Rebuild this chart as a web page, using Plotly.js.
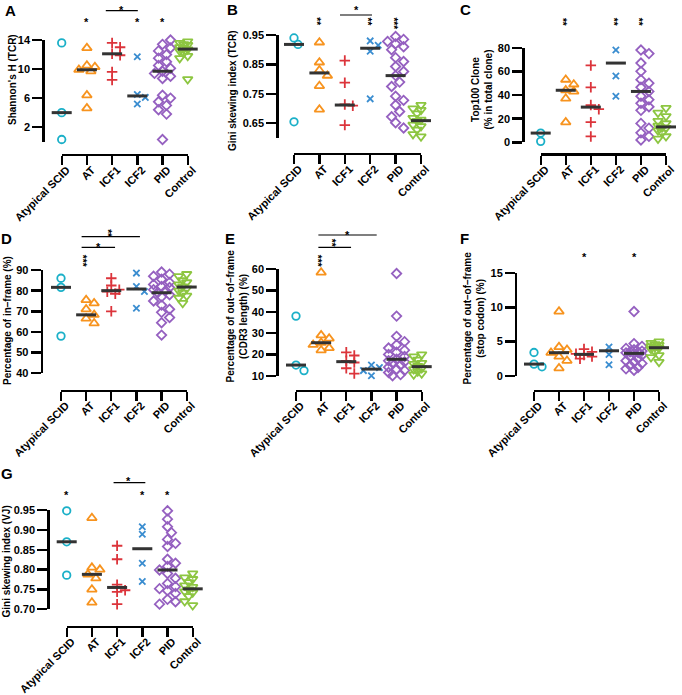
<!DOCTYPE html>
<html>
<head>
<meta charset="utf-8">
<script src="https://cdn.plot.ly/plotly-3.0.1.min.js"></script>
<style>
html,body{margin:0;padding:0;background:#fff;}
#chart{width:682px;height:695px;}
</style>
</head>
<body>
<div id="chart"></div>
<script>
const groups = ['Atypical SCID', 'AT', 'ICF1', 'ICF2', 'PID', 'Control'];

// A: Shannon's H (TCR)
const aAtypical = [13.6, 4.0, 0.3];
const aAT = [12.9, 10.5, 10.3, 9.9, 9.7, 6.4, 4.6];
const aICF1 = [14.6, 13.6, 13.0, 12.1, 11.9, 9.6, 8.5];
const aICF2 = [11.7, 6.5, 6.1, 5.2];
const aPID = [14.6, 14.0, 13.4, 12.9, 12.5, 12.0, 11.5, 11.0, 10.5, 10.1, 9.7, 9.4, 9.0, 8.7, 6.4, 6.0, 5.5, 5.0, 4.4, 3.8, 0.3];
const aControl = [13.8, 13.7, 13.6, 13.5, 13.4, 13.3, 13.2, 13.0, 12.9, 12.8, 12.7, 12.6, 12.5, 12.4, 12.2, 12.0, 11.8, 11.5, 11.0, 8.6];

// B: Gini skewing index (TCR)
const bAtypical = [0.940, 0.918, 0.655];
const bAT = [0.925, 0.857, 0.830, 0.812, 0.777, 0.697];
const bICF1 = [0.863, 0.788, 0.714, 0.710, 0.644, 0.593];
const bICF2 = [0.930, 0.915, 0.895, 0.733];
const bPID = [0.945, 0.935, 0.928, 0.920, 0.910, 0.900, 0.873, 0.860, 0.843, 0.826, 0.812, 0.790, 0.775, 0.742, 0.728, 0.712, 0.690, 0.672, 0.652, 0.634, 0.595];
const bControl = [0.712, 0.705, 0.700, 0.695, 0.690, 0.683, 0.675, 0.668, 0.662, 0.660, 0.658, 0.652, 0.645, 0.640, 0.635, 0.628, 0.620, 0.613, 0.605, 0.600];

// C: Top100 Clone (% in total clone)
const cAtypical = [88.5, 7.8, 0.8];
const cAT = [85, 53, 49, 44, 43, 37, 17];
const cICF1 = [65, 46.5, 31.5, 28, 17, 5];
const cICF2 = [84, 78, 56, 39];
const cPID = [90, 87, 84, 78, 75, 67, 60, 53, 50, 46.5, 43, 39, 36, 33, 30, 27, 16, 12, 8, 5, 2];
const cControl = [29, 27, 25, 22, 20, 18, 16, 15, 14, 13.5, 12.5, 12, 11, 10, 9, 8, 7, 5, 3, 1];

// D: Percentage of in-frame (%)
const dAtypical = [86, 81.6, 58];
const dAT = [75.5, 73.9, 71.0, 68.3, 66.5, 64.2, 39.2];
const dICF1 = [86, 82.5, 80.5, 79.5, 78.5, 70];
const dICF2 = [88.5, 82, 79.6, 71.5];
const dPID = [89, 88, 87, 85.5, 84, 83, 82, 81.5, 80.5, 80, 79, 78, 77, 75, 73, 71, 69.5, 67, 64.5, 58.5, 39];
const dControl = [88, 87.5, 87, 86, 85, 84.5, 84, 83, 82.5, 82, 81.5, 81, 80, 79.5, 79, 78, 77.5, 76.5, 75.5, 74];

// E: Percentage of out-of-frame (CDR3 length) (%)
const eAtypical = [38, 15, 12.4];
const eAT = [58.5, 29, 27.5, 25.5, 24.5, 23, 22];
const eICF1 = [21, 19.5, 17, 16.2, 13.5, 11];
const eICF2 = [15, 13.8, 12.4, 10];
const ePID = [58, 38, 28.5, 26, 24.5, 23, 22, 21, 20, 19, 17.7, 17, 16.5, 16, 15, 14, 13, 12.5, 11.5, 10.5, 10];
const eControl = [20, 19.5, 19, 18, 17.5, 17, 16, 15.5, 15, 14.5, 14, 13.5, 13, 12.5, 12, 11.5, 11, 10.5, 9.5, 9];

// F: Percentage of out-of-frame (stop codon) (%)
const fAtypical = [3.4, 1.7, 1.3];
const fAT = [9.4, 4.2, 3.8, 3.37, 2.8, 2.2, 1.1];
const fICF1 = [3.9, 3.5, 3.2, 3.05, 2.8, 2.5];
const fICF2 = [15.9, 4.2, 3.1, 1.6];
const fPID = [15.9, 9.4, 4.7, 4.3, 4.0, 3.8, 3.6, 3.5, 3.4, 3.35, 3.27, 3.0, 2.8, 2.5, 2.2, 2.0, 1.8, 1.5, 1.2, 1.0, 0.8];
const fControl = [5.0, 4.9, 4.8, 4.7, 4.6, 4.5, 4.4, 4.3, 4.2, 4.15, 4.05, 4.0, 3.9, 3.7, 3.5, 3.3, 3.0, 2.7, 2.4, 2.0];

// G: Gini skewing index (VJ)
const gAtypical = [0.948, 0.870, 0.786];
const gAT = [0.930, 0.805, 0.800, 0.788, 0.778, 0.750, 0.717];
const gICF1 = [0.860, 0.826, 0.762, 0.748, 0.744, 0.713];
const gICF2 = [0.908, 0.889, 0.816, 0.770];
const gPID = [0.948, 0.927, 0.908, 0.893, 0.876, 0.866, 0.858, 0.826, 0.816, 0.808, 0.799, 0.790, 0.778, 0.765, 0.757, 0.752, 0.747, 0.740, 0.725, 0.719, 0.713];
const gControl = [0.790, 0.785, 0.780, 0.776, 0.772, 0.768, 0.764, 0.760, 0.756, 0.753, 0.750, 0.748, 0.745, 0.742, 0.738, 0.733, 0.728, 0.720, 0.710, 0.695];

const W = 682, H = 695;
const FONT = 'Liberation Sans, Arial, Helvetica, sans-serif';
const colors = ['#1bb0c8', '#f7931e', '#dc343b', '#3a8dd0', '#9560c0', '#8dc641'];
const symbols = ['circle-open', 'triangle-up-open', 'cross-thin-open', 'x-thin-open', 'diamond-open', 'triangle-down-open'];
const sizes = [7.5, 8.5, 7.5, 6.3, 7.2, 8.5];

const panels = [
  {letter:'A', lx:10, ly:10, vals:[aAtypical,aAT,aICF1,aICF2,aPID,aControl],
   yx:43.3, c0:61.7, c5:187.7, yTop:40, yBot:141.7, yMin:0, yMax:14, xline:155,
   tickvals:[2,6,10,14], fmt:'', title:["Shannon's H (TCR)"], tx:13, ty:80,
   stars:[{x:1,py:19,t:'*'},{x:3,py:19,t:'*'},{x:4,py:19,t:'*'},{x:2.39,py:7.3,t:'*'}],
   brackets:[{x0:1.75,x1:3.02,py:10.7}]},
  {letter:'B', lx:232.5, ly:9, vals:[bAtypical,bAT,bICF1,bICF2,bPID,bControl],
   yx:277.3, c0:294, c5:421, yTop:35, yBot:138, yMin:0.6, yMax:0.95, xline:154,
   tickvals:[0.65,0.75,0.85,0.95], fmt:'.2f', title:['Gini skewing index (TCR)'], tx:233, ty:90,
   stars:[{x:1,py:21.7,t:'**',v:1},{x:3,py:21.7,t:'**',v:1},{x:4,py:23,t:'***',v:1},{x:2.48,py:7.3,t:'*'}],
   brackets:[{x0:1.81,x1:3.07,py:15}]},
  {letter:'C', lx:466, ly:9, vals:[cAtypical,cAT,cICF1,cICF2,cPID,cControl],
   yx:523.3, c0:540.7, c5:666, yTop:47.7, yBot:142.3, yMin:0, yMax:80, xline:154.3,
   tickvals:[0,20,40,60,80], fmt:'', title:['Top100 Clone','(% in total clone)'], tx:481.5, ty:90,
   stars:[{x:1,py:21.7,t:'**',v:1},{x:3,py:21.7,t:'**',v:1},{x:4,py:21.7,t:'**',v:1}],
   brackets:[]},
  {letter:'D', lx:6.5, ly:239, vals:[dAtypical,dAT,dICF1,dICF2,dPID,dControl],
   yx:41.7, c0:61, c5:186.7, yTop:270, yBot:373.3, yMin:40, yMax:90, xline:390.5,
   tickvals:[40,50,60,70,80,90], fmt:'', title:['Percentage of in–frame (%)'], tx:8, ty:321,
   stars:[{x:1,py:261,t:'***',v:1},{x:1.98,py:233,t:'**',v:1},{x:1.48,py:244,t:'*'}],
   brackets:[{x0:0.82,x1:3.14,py:236.7},{x0:0.82,x1:2.15,py:247.3}]},
  {letter:'E', lx:230, ly:239, vals:[eAtypical,eAT,eICF1,eICF2,ePID,eControl],
   yx:277.3, c0:296, c5:421.7, yTop:269.3, yBot:375.7, yMin:10, yMax:60, xline:390.7,
   tickvals:[10,20,30,40,50,60], fmt:'', title:['Percentage of out–of–frame','(CDR3 length) (%)'], tx:236.5, ty:316,
   stars:[{x:1,py:261,t:'***',v:1},{x:1.54,py:242.5,t:'**',v:1},{x:2.05,py:231.7,t:'*'}],
   brackets:[{x0:0.89,x1:3.21,py:235},{x0:0.89,x1:2.19,py:247.3}]},
  {letter:'F', lx:465, ly:239, vals:[fAtypical,fAT,fICF1,fICF2,fPID,fControl],
   yx:516, c0:534, c5:659, yTop:273.3, yBot:375.7, yMin:0, yMax:15, xline:390.7,
   tickvals:[0,5,10,15], fmt:'', title:['Percentage of out–of–frame','(stop codon) (%)'], tx:473.5, ty:318,
   stars:[{x:2,py:254,t:'*'},{x:4,py:254,t:'*'}],
   brackets:[]},
  {letter:'G', lx:6.5, ly:474, vals:[gAtypical,gAT,gICF1,gICF2,gPID,gControl],
   yx:48.3, c0:66.7, c5:192.7, yTop:510, yBot:609.3, yMin:0.70, yMax:0.95, xline:626.7,
   tickvals:[0.70,0.75,0.80,0.85,0.90,0.95], fmt:'.2f', title:['Gini skewing index (VJ)'], tx:5.5, ty:562,
   stars:[{x:0,py:491.7,t:'*'},{x:3,py:491.7,t:'*'},{x:4,py:491.7,t:'*'},{x:2.44,py:478,t:'*'}],
   brackets:[{x0:1.86,x1:3.12,py:482.7}]}
];

function median(arr) {
  const s = arr.slice().sort((a,b)=>a-b);
  const m = Math.floor(s.length/2);
  return s.length % 2 ? s[m] : (s[m-1]+s[m])/2;
}

// simple deterministic beeswarm (pixel space) to spread overlapping points
function swarm(vals, ppu) {
  const order = vals.map((v,i)=>i).sort((a,b)=>vals[b]-vals[a]);
  const placed = [];
  const off = new Array(vals.length).fill(0);
  const step = 4, minD = 7, maxK = 2;
  const cands = [0];
  for (let k=1;k<=maxK;k++) cands.push(k*step, -k*step);
  order.forEach(i => {
    const y = vals[i]*ppu;
    let best = 0, bestD = -1;
    for (const c of cands) {
      let md = Infinity;
      for (const q of placed) { const d = Math.hypot(q.x-c, q.y-y); if (d<md) md=d; }
      if (md >= minD) { best=c; bestD=md; break; }
      if (md > bestD) { bestD=md; best=c; }
    }
    placed.push({x:best, y:y});
    off[i] = best;
  });
  return off;
}

const traces = [];
const layout = {
  width: W, height: H,
  margin: {l:0, r:0, t:0, b:0},
  paper_bgcolor: '#fff', plot_bgcolor: 'rgba(0,0,0,0)',
  showlegend: false,
  font: {family: FONT, color: '#000'},
  annotations: [], shapes: []
};

panels.forEach((p, k) => {
  const n = k + 1;
  const suf = n === 1 ? '' : String(n);
  const xa = 'x' + suf, ya = 'y' + suf;
  const ppu = (p.yBot - p.yTop) / (p.yMax - p.yMin);
  const sp = (p.c5 - p.c0) / 5;

  p.vals.forEach((vals, g) => {
    const off = swarm(vals, ppu);
    traces.push({
      type: 'scatter', mode: 'markers',
      x: vals.map((v,i) => g + off[i]/sp), y: vals,
      xaxis: xa, yaxis: ya, cliponaxis: false, hoverinfo: 'skip',
      marker: {symbol: symbols[g], size: sizes[g], color: colors[g],
               line: {color: colors[g], width: 1.8}}
    });
  });
  traces.push({
    type: 'scatter', mode: 'markers',
    x: groups.map((_,g)=>g), y: p.vals.map(median),
    xaxis: xa, yaxis: ya, cliponaxis: false, hoverinfo: 'skip',
    marker: {symbol: 'line-ew-open', size: 14.3, color: '#333',
             line: {color: '#333', width: 3}}
  });

  layout['xaxis' + suf] = {
    domain: [p.c0/W, p.c5/W], range: [0, 5], anchor: 'free', position: 1 - p.xline/H,
    showline: true, linecolor: '#000', linewidth: 2.4,
    ticks: 'outside', ticklen: 9, tickwidth: 2.4, tickcolor: '#000',
    tickmode: 'array', tickvals: [0,1,2,3,4,5], ticktext: groups, tickangle: -45,
    ticklabelshift: 5, ticklabelstandoff: -6,
    tickfont: {family: FONT, size: 11, color: '#000', weight: 700},
    showgrid: false, zeroline: false, fixedrange: true
  };
  layout['yaxis' + suf] = {
    domain: [1 - p.yBot/H, 1 - p.yTop/H], range: [p.yMin, p.yMax],
    anchor: 'free', position: p.yx/W,
    showline: true, linecolor: '#000', linewidth: 2.4,
    ticks: 'outside', ticklen: 10, tickwidth: 2.4, tickcolor: '#000',
    tickmode: 'array', tickvals: p.tickvals, tickformat: p.fmt,
    tickfont: {family: FONT, size: 11, color: '#000', weight: 700},
    showgrid: false, zeroline: false, fixedrange: true
  };

  layout.annotations.push({
    text: p.letter, xref: 'paper', yref: 'paper', x: p.lx/W, y: 1 - p.ly/H,
    xanchor: 'center', yanchor: 'middle', showarrow: false,
    font: {family: FONT, size: 15, color: '#000', weight: 700}
  });
  layout.annotations.push({
    text: p.title.join('<br>'), xref: 'paper', yref: 'paper', x: p.tx/W, y: 1 - p.ty/H,
    xanchor: 'center', yanchor: 'middle', showarrow: false, textangle: -90,
    font: {family: FONT, size: 10, color: '#000', weight: 700}
  });
  p.stars.forEach(s => {
    layout.annotations.push({
      text: s.t, xref: 'paper', yref: 'paper',
      x: (p.c0 + s.x*sp)/W, y: 1 - s.py/H,
      xanchor: 'center', yanchor: 'middle', showarrow: false,
      textangle: s.v ? 90 : 0, xshift: s.v ? -3 : 0, yshift: s.v ? 0 : -3,
      font: {family: FONT, size: s.v ? 10 : 11, color: '#000', weight: 700}
    });
  });
  p.brackets.forEach(b => {
    layout.shapes.push({
      type: 'line', xref: 'paper', yref: 'paper',
      x0: (p.c0 + b.x0*sp)/W, x1: (p.c0 + b.x1*sp)/W,
      y0: 1 - b.py/H, y1: 1 - b.py/H,
      line: {color: '#000', width: 1.2}
    });
  });
});

Plotly.newPlot('chart', traces, layout, {staticPlot: true, displayModeBar: false});
</script>
</body>
</html>
